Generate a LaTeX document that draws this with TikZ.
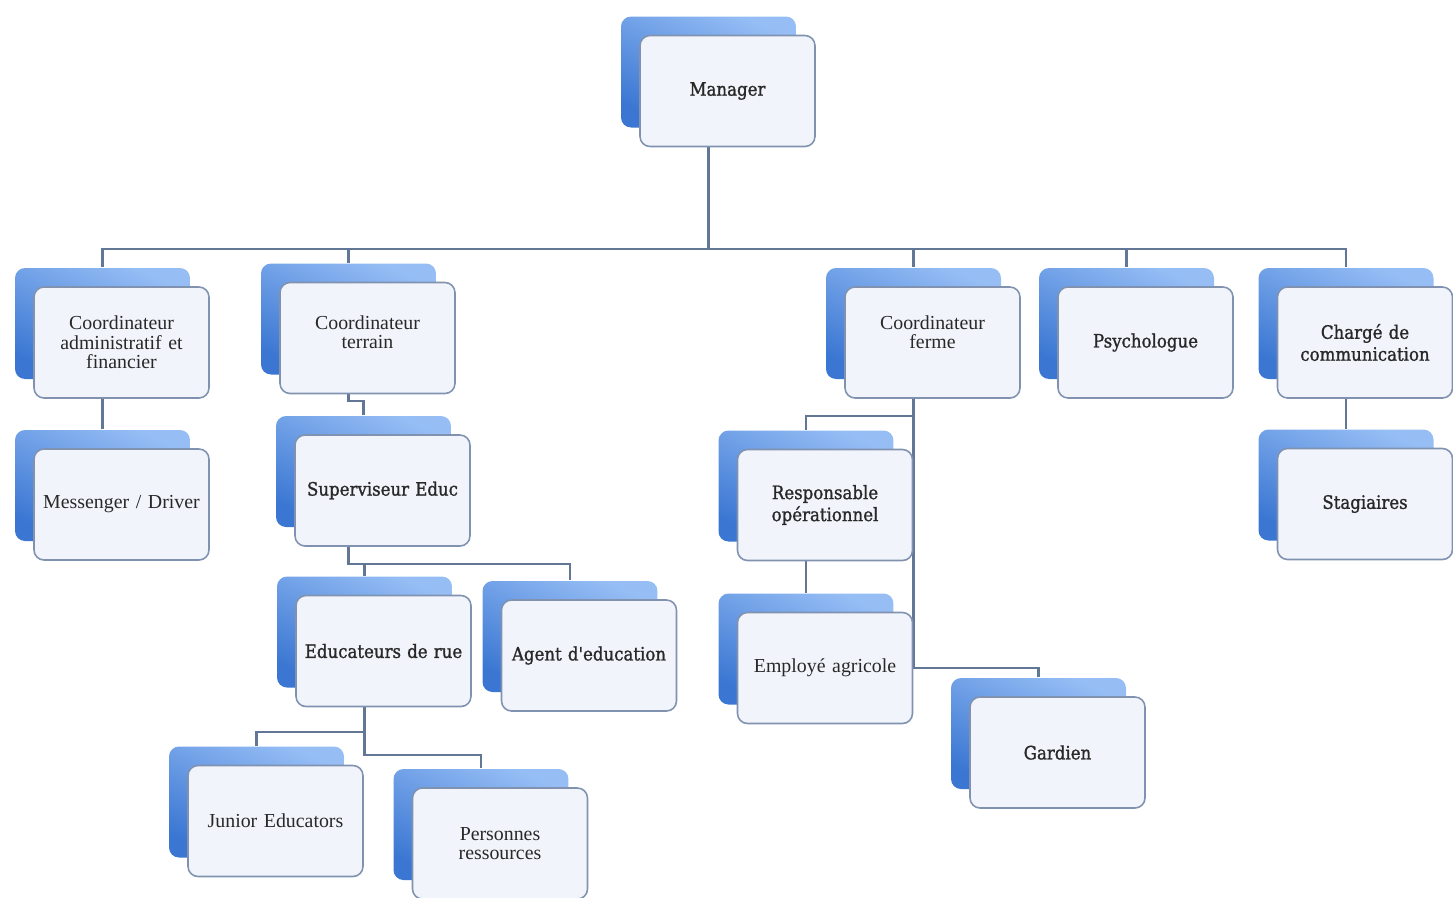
\documentclass[tikz,border=0pt]{standalone}
\usepackage{fontspec}
\setmainfont{Liberation Serif}
\newfontfamily\slabfont[FakeBold=1.2]{DejaVu Serif Condensed}
\usetikzlibrary{shadows, positioning, backgrounds}

\definecolor{linegray}{RGB}{98,118,150}
\definecolor{rimgray}{RGB}{128,146,176}
\definecolor{facefill}{RGB}{241,245,251}
\definecolor{backlight}{RGB}{150,190,245}
\definecolor{backdark}{RGB}{58,118,210}
\definecolor{inkgray}{RGB}{40,40,40}

\begin{document}
\begin{tikzpicture}[x=0.02cm, y=-0.02cm,
    unit/.style={rectangle, rounded corners=2mm, draw=rimgray, line width=0.9pt, fill=facefill,
        minimum width=3.5cm, minimum height=2.22cm, inner sep=0pt, text width=3.3cm, align=center,
        text=inkgray, font=\fontsize{11.3}{11}\selectfont,
        general shadow={shadow xshift=-3.8mm, shadow yshift=3.8mm, draw=none,
            top color=backlight, bottom color=backdark, shading angle=-25}},
    slab/.style={font=\slabfont\fontsize{10.5}{12.5}\selectfont},
    link/.style={draw=linegray, line width=1.2pt}]
        \useasboundingbox (0,0) rectangle (1453,897);

        \node[unit, slab] (manager) at (727.5,91) {Manager};
        \node[unit] (admin) at (121.5,342.5) {Coordinateur\\administratif et\\financier};
        \node[unit] (driver) at (121.5,504.5) {Messenger / Driver};
        \node[unit] (terrain) at (367.5,338) {Coordinateur\\terrain\\[-4pt]\mbox{}};
        \node[unit, slab] (superviseur) at (382.5,490.5) {Superviseur Educ};
        \node[unit, slab] (educateurs) at (383.5,651) {Educateurs de rue};
        \node[unit, slab] (agent) at (589,655.5) {Agent d'education};
        \node[unit] (junior) at (275.5,821) {Junior Educators};
        \node[unit] (personnes) at (500,843.5) {Personnes\\ressources};
        \node[unit] (ferme) at (932.5,342.5) {Coordinateur\\ferme\\[1pt]\mbox{}};
        \node[unit, slab] (psycho) at (1145.5,342.5) {Psychologue};
        \node[unit, slab] (charge) at (1365,342.5) {Chargé de\\communication};
        \node[unit, slab] (stagiaires) at (1365,504) {Stagiaires};
        \node[unit, slab] (responsable) at (825,505) {Responsable\\opérationnel};
        \node[unit] (employe) at (825,668) {Employé agricole};
        \node[unit, slab] (gardien) at (1057.5,752.5) {Gardien};

        % ends of the connectors, on the back boxes
        \coordinate (bus) at (0,249);
        \foreach \n in {manager, admin, driver, terrain, superviseur, educateurs, agent, junior,
                personnes, ferme, psycho, charge, stagiaires, responsable, employe, gardien} {
            \coordinate (\n-in) at ([shift={(-3.8mm,3.8mm)}]\n.north);
            \coordinate (\n-out) at ([xshift=-3.8mm]\n.south);
        }

        \begin{scope}[on background layer]
            \foreach \n in {admin, terrain, ferme, psycho, charge}
                \draw[link] (manager-out) -- (manager-out |- bus) -| (\n-in);
            \draw[link] (admin-out) -- (driver-in);
            \draw[link] (terrain-out) -- ++(0,7) -| (superviseur-in);
            \draw[link] (terrain-out |- superviseur.south) -- ++(0,17) coordinate (split) -| (educateurs-in)
                (split) -| (agent-in);
            \draw[link] (educateurs-out) -- ++(0,25) -| (junior-in);
            \draw[link] (educateurs-out) -- ++(0,48) -| (personnes-in);
            \draw[link] (ferme-out) -- ++(0,17) -| (responsable-in);
            \draw[link] (ferme-out) -- (ferme-out |- employe.east) -| (gardien-in);
            \draw[link] (responsable-out) -- (employe-in);
            \draw[link] (charge-out) -- (stagiaires-in);
        \end{scope}
    \end{tikzpicture}
\end{document}
